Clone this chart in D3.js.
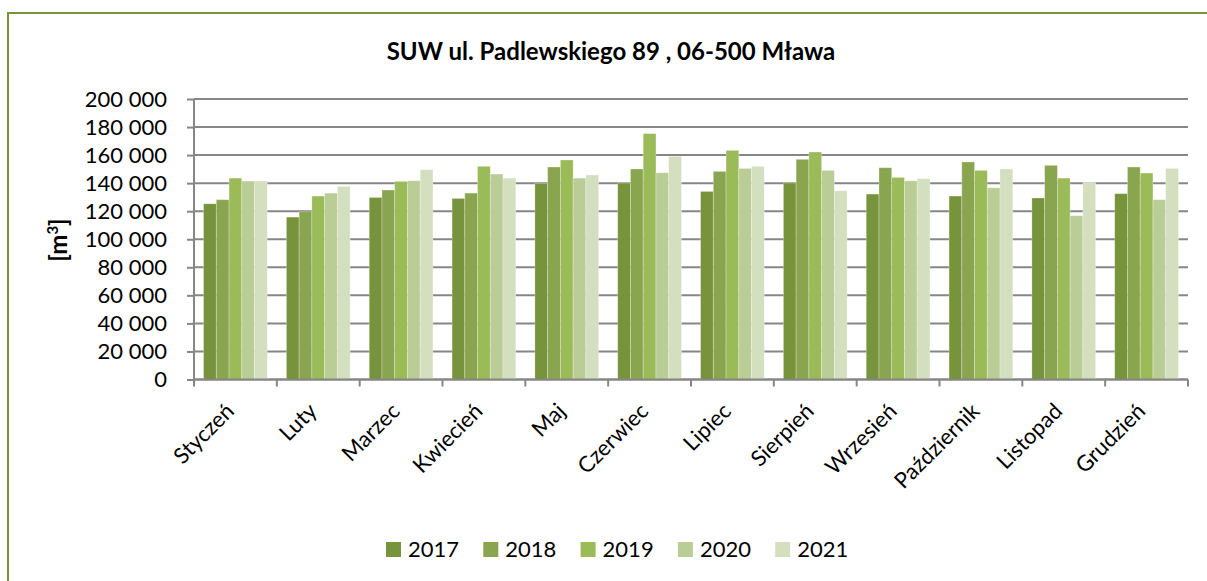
<!DOCTYPE html>
<html>
<head>
<meta charset="utf-8">
<script src="https://cdn.jsdelivr.net/npm/d3@7/dist/d3.min.js"></script>
<style>
  body { margin: 0; background: #fff; }
  svg { display: block; font-family: Lato, "Open Sans", sans-serif; }
</style>
</head>
<body>
<div id="chart"></div>
<script>
// months and yearly volumes [m3]
const months = ['Styczeń', 'Luty', 'Marzec', 'Kwiecień', 'Maj', 'Czerwiec',
    'Lipiec', 'Sierpień', 'Wrzesień', 'Październik', 'Listopad', 'Grudzień'];
const years = ['2017', '2018', '2019', '2020', '2021'];
const v2017 = [125300, 115800, 129800, 129100, 139800, 140100, 134100, 140100, 132200, 130800, 129400, 132500];
const v2018 = [128200, 119600, 135100, 132900, 151500, 150100, 148400, 157000, 151000, 155100, 152700, 151500];
const v2019 = [143600, 130800, 141300, 152000, 156500, 175300, 163400, 162200, 144100, 149100, 143600, 147200];
const v2020 = [141500, 132900, 141700, 146500, 143600, 147400, 150500, 149100, 141700, 136700, 116800, 128200];
const v2021 = [141500, 137700, 149600, 143600, 145800, 159100, 152000, 134600, 143200, 150100, 140500, 150500];
const yTicks = [0, 20000, 40000, 60000, 80000, 100000, 120000, 140000, 160000, 180000, 200000];
const colors = ['#77933c', '#8aa550', '#9bbb59', '#bbcd97', '#d3dfbf'];

const series = [v2017, v2018, v2019, v2020, v2021];

(function drawChart() {
    const width = 1207, height = 581;
    const margin = { left: 194, right: 19, top: 99, bottom: 201.5 };

    const svg = d3.select('#chart')
        .append('svg')
        .attr('width', width)
        .attr('height', height);

    // chart area frame
    svg.append('rect')
        .attr('x', 8)
        .attr('y', 13)
        .attr('width', 1300)
        .attr('height', 700)
        .attr('fill', '#fff')
        .attr('stroke', '#77933c')
        .attr('stroke-width', 2);

    svg.append('text')
        .attr('x', 611)
        .attr('y', 60)
        .attr('text-anchor', 'middle')
        .attr('font-size', 24)
        .attr('font-weight', 'bold')
        .attr('fill', '#000')
        .text('SUW ul. Padlewskiego 89 , 06-500 Mława');

    const x0 = d3.scaleBand()
        .domain(months)
        .range([margin.left, width - margin.right]);

    // excel gap width 150%: 5 bars + 1.5 gap per category
    const x1 = d3.scaleBand()
        .domain(years)
        .range([x0.bandwidth() * 0.75 / 6.5, x0.bandwidth() * 5.75 / 6.5]);

    const y = d3.scaleLinear()
        .domain([0, 200000])
        .range([height - margin.bottom, margin.top]);

    const fmt = d => d3.format(',')(d).replace(/,/g, ' ');

    // gridlines + y axis
    const yAxis = svg.append('g')
        .attr('transform', `translate(${margin.left},0)`)
        .call(d3.axisLeft(y)
            .tickValues(yTicks)
            .tickSize(7)
            .tickPadding(20)
            .tickFormat(fmt));
    yAxis.select('.domain').remove();
    yAxis.selectAll('.tick line').attr('stroke', '#868686').attr('stroke-width', 2);
    yAxis.selectAll('.tick text')
        .attr('font-size', 22)
        .attr('font-family', 'Lato, sans-serif')
        .attr('fill', '#000');

    svg.append('g')
        .selectAll('line')
        .data(yTicks)
        .join('line')
        .attr('x1', margin.left)
        .attr('x2', width - margin.right)
        .attr('y1', d => y(d))
        .attr('y2', d => y(d))
        .attr('stroke', '#868686')
        .attr('stroke-width', 2);

    // bars
    svg.append('g')
        .selectAll('g')
        .data(months)
        .join('g')
        .attr('transform', m => `translate(${x0(m)},0)`)
        .selectAll('rect')
        .data((m, i) => years.map((yr, j) => ({ yr, j, value: series[j][i] })))
        .join('rect')
        .attr('x', d => x1(d.yr))
        .attr('width', x1.bandwidth())
        .attr('y', d => y(d.value))
        .attr('height', d => y(0) - y(d.value))
        .attr('fill', d => colors[d.j])
        .attr('stroke', 'rgba(255,255,255,0.35)')
        .attr('stroke-width', 0.8);

    // left axis line
    svg.append('line')
        .attr('x1', margin.left)
        .attr('x2', margin.left)
        .attr('y1', y(200000))
        .attr('y2', y(0))
        .attr('stroke', '#868686')
        .attr('stroke-width', 2);

    // bottom axis with ticks between categories
    const base = y(0);
    svg.append('line')
        .attr('x1', margin.left)
        .attr('x2', width - margin.right)
        .attr('y1', base)
        .attr('y2', base)
        .attr('stroke', '#868686')
        .attr('stroke-width', 2);

    const bounds = months.map(m => x0(m)).concat([width - margin.right]);
    svg.append('g')
        .selectAll('line')
        .data(bounds)
        .join('line')
        .attr('x1', d => d)
        .attr('x2', d => d)
        .attr('y1', base)
        .attr('y2', base + 7)
        .attr('stroke', '#868686')
        .attr('stroke-width', 2);

    svg.append('g')
        .selectAll('text')
        .data(months)
        .join('text')
        .attr('transform', m => `translate(${x0(m) + x0.bandwidth() / 2},${base + 33}) rotate(-45)`)
        .attr('text-anchor', 'end')
        .attr('font-size', 22)
        .attr('fill', '#000')
        .text(m => m);

    // y title
    const yTitle = svg.append('text')
        .attr('transform', 'translate(67,240) rotate(-90)')
        .attr('text-anchor', 'middle')
        .attr('font-size', 24)
        .attr('font-weight', 'bold')
        .attr('fill', '#000');
    yTitle.append('tspan').text('[m');
    yTitle.append('tspan').attr('baseline-shift', 'super').attr('font-size', 15).text('3');
    yTitle.append('tspan').text(']');

    // legend
    const legend = svg.append('g')
        .selectAll('g')
        .data(years)
        .join('g')
        .attr('transform', (d, i) => `translate(${386 + i * 97.3},542)`);
    legend.append('rect')
        .attr('width', 15)
        .attr('height', 15)
        .attr('fill', (d, i) => colors[i]);
    legend.append('text')
        .attr('x', 22)
        .attr('y', 15)
        .attr('font-size', 22)
        .attr('fill', '#000')
        .text(d => d);
})();
</script>
</body>
</html>
